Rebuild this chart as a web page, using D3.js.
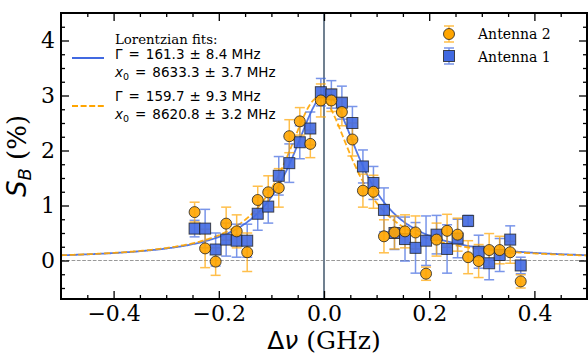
<!DOCTYPE html>
<html><head><meta charset="utf-8">
<script src="https://cdn.jsdelivr.net/npm/d3@7"></script>
<style>body{margin:0;background:#fff}svg{display:block}</style>
</head><body>
<svg id="chart" width="588" height="354"></svg>
<script>
// ---- data ----
const detuning = [-0.246,-0.226,-0.206,-0.186,-0.166,-0.146,-0.126,-0.106,-0.086,-0.066,-0.046,-0.026,-0.006,0.014,0.034,0.054,0.074,0.094,0.114,0.134,0.154,0.174,0.194,0.214,0.234,0.254,0.274,0.294,0.314,0.334,0.354,0.374];
const antenna2 = [0.88,0.22,-0.02,0.67,0.53,0.15,1.10,1.24,1.32,2.26,2.53,2.12,2.91,2.91,2.70,2.20,1.27,1.25,0.44,0.51,0.53,0.51,-0.24,0.38,0.54,0.47,0.06,-0.01,0.19,0.19,0.15,-0.38];
const antenna2Err = [0.18,0.35,0.25,0.30,0.30,0.35,0.25,0.30,0.35,0.30,0.25,0.25,0.30,0.20,0.25,0.30,0.30,0.30,0.30,0.30,0.30,0.30,0.12,0.30,0.30,0.30,0.30,0.30,0.30,0.25,0.20,0.12];
const antenna1 = [0.58,0.58,0.20,0.38,0.36,0.36,0.85,0.98,1.54,1.77,2.15,2.40,3.06,3.02,2.87,2.50,1.71,1.41,0.92,0.50,0.39,0.23,0.36,0.47,0.21,0.40,0.72,0.16,-0.05,0.10,0.38,-0.09];
const antenna1Err = [0.15,0.35,0.30,0.30,0.30,0.30,0.30,0.30,0.35,0.35,0.30,0.30,0.25,0.25,0.30,0.30,0.30,0.30,0.40,0.30,0.40,0.46,0.45,0.35,0.44,0.35,0.10,0.30,0.30,0.30,0.25,0.15];
// Lorentzian fit parameters (GHz relative to 8.63 GHz)
const fitBlue = {gamma:0.1613, center:0.0033, amp:3.0, offset:0.02};
const fitOrange = {gamma:0.1597, center:-0.0092, amp:2.95, offset:0.02};
const xMajor = [-0.4,-0.2,0.0,0.2,0.4];
const yMajor = [0,1,2,3,4];

const blue = "#4169E1", orange = "#FFA500";
const svg = d3.select("#chart");
const L=61,R=587,T=13,B=299;
const x = d3.scaleLinear().domain([-0.5,0.5]).range([L,R]);
const y = d3.scaleLinear().domain([-0.7,4.5]).range([B,T]);

svg.append("defs").append("clipPath").attr("id","clip")
  .append("rect").attr("x",L).attr("y",T).attr("width",R-L).attr("height",B-T);
const plot = svg.append("g").attr("clip-path","url(#clip)");

// zero line
plot.append("line").attr("x1",L).attr("x2",R).attr("y1",y(0)).attr("y2",y(0))
  .attr("stroke","#999").attr("stroke-width",1).attr("stroke-dasharray","3.7,1.6");
// vertical line
plot.append("line").attr("x1",x(0)).attr("x2",x(0)).attr("y1",T).attr("y2",B)
  .attr("stroke","#708090").attr("stroke-width",2);

// fits
const lor = p => v => p.offset + p.amp/(1+Math.pow((v-p.center)/(p.gamma/2),2));
const xs = d3.range(-0.5,0.5001,0.002);
const line = f => d3.line().x(d=>x(d)).y(d=>y(f(d)));
plot.append("path").attr("d",line(lor(fitBlue))(xs)).attr("fill","none")
  .attr("stroke",blue).attr("stroke-width",1.8).attr("opacity",0.9);
plot.append("path").attr("d",line(lor(fitOrange))(xs)).attr("fill","none")
  .attr("stroke",orange).attr("stroke-width",1.8).attr("stroke-dasharray","6,2.6").attr("opacity",0.9);

function errbars(vals, errs, col){
  const g = plot.append("g").attr("stroke",col).attr("stroke-width",1.5).attr("opacity",0.7);
  detuning.forEach((d,i)=>{
    const cx=x(d), y1=y(vals[i]-errs[i]), y2=y(vals[i]+errs[i]);
    g.append("line").attr("x1",cx).attr("x2",cx).attr("y1",y1).attr("y2",y2);
    g.append("line").attr("x1",cx-5).attr("x2",cx+5).attr("y1",y1).attr("y2",y1);
    g.append("line").attr("x1",cx-5).attr("x2",cx+5).attr("y1",y2).attr("y2",y2);
  });
}
errbars(antenna1, antenna1Err, blue);
errbars(antenna2, antenna2Err, orange);
// markers
plot.append("g").selectAll("rect").data(detuning).join("rect")
  .attr("x",d=>x(d)-5.5).attr("y",(d,i)=>y(antenna1[i])-5.5).attr("width",11).attr("height",11)
  .attr("fill",blue).attr("fill-opacity",0.9).attr("stroke","#222").attr("stroke-width",1).attr("stroke-opacity",0.8);
plot.append("g").selectAll("circle").data(detuning).join("circle")
  .attr("cx",d=>x(d)).attr("cy",(d,i)=>y(antenna2[i])).attr("r",5.5)
  .attr("fill",orange).attr("fill-opacity",0.9).attr("stroke","#222").attr("stroke-width",1).attr("stroke-opacity",0.8);

// axes
const fmt = d3.format(".1f");
const axFont = "DejaVu Serif";
function styleAxis(g){ g.select(".domain").remove(); g.selectAll("line").attr("stroke","#000").attr("stroke-width",1.3);
  g.selectAll("text").attr("font-family",axFont).attr("font-size",22).attr("fill","#000"); }
const xMinor = d3.range(-0.45,0.5,0.05).filter(v=>Math.abs(Math.round(v*5)-v*5)>1e-6);
const yMinor = d3.range(-0.5,4.5,0.25).filter(v=>Math.abs(Math.round(v)-v)>1e-6);
svg.append("g").attr("transform",`translate(0,${B})`).call(d3.axisBottom(x).tickValues(xMajor).tickSize(-8).tickPadding(6).tickFormat(fmt)).call(styleAxis);
svg.append("g").attr("transform",`translate(0,${B})`).call(d3.axisBottom(x).tickValues(xMinor).tickSize(-4).tickFormat("")).call(styleAxis);
svg.append("g").attr("transform",`translate(0,${T})`).call(d3.axisTop(x).tickValues(xMajor).tickSize(-8).tickFormat("")).call(styleAxis);
svg.append("g").attr("transform",`translate(0,${T})`).call(d3.axisTop(x).tickValues(xMinor).tickSize(-4).tickFormat("")).call(styleAxis);
svg.append("g").attr("transform",`translate(${L},0)`).call(d3.axisLeft(y).tickValues(yMajor).tickSize(-8).tickPadding(6).tickFormat(d3.format("d"))).call(styleAxis);
svg.append("g").attr("transform",`translate(${L},0)`).call(d3.axisLeft(y).tickValues(yMinor).tickSize(-4).tickFormat("")).call(styleAxis);
svg.append("g").attr("transform",`translate(${R},0)`).call(d3.axisRight(y).tickValues(yMajor).tickSize(-8).tickFormat("")).call(styleAxis);
svg.append("g").attr("transform",`translate(${R},0)`).call(d3.axisRight(y).tickValues(yMinor).tickSize(-4).tickFormat("")).call(styleAxis);
svg.append("rect").attr("x",L).attr("y",T).attr("width",R-L).attr("height",B-T).attr("fill","none").attr("stroke","#000").attr("stroke-width",2);

// axis labels
const xl = svg.append("text").attr("x",(L+R)/2).attr("y",349).attr("text-anchor","middle")
  .attr("font-family",axFont).attr("font-size",25);
xl.append("tspan").attr("font-family","DejaVu Sans").text("Δ");
xl.append("tspan").attr("font-family","DejaVu Sans").attr("font-style","italic").text("ν");
xl.append("tspan").text(" (GHz)");
const yl = svg.append("text").attr("transform",`translate(26,${(T+B)/2}) rotate(-90)`).attr("text-anchor","middle")
  .attr("font-family",axFont).attr("font-size",26);
yl.append("tspan").attr("font-family","DejaVu Sans").attr("font-style","italic").text("S");
yl.append("tspan").attr("font-family","DejaVu Sans").attr("font-style","italic").attr("font-size",18).attr("dy",5).text("B");
yl.append("tspan").attr("dy",-5).text(" (%)");

// fit legend
const lg = svg.append("g");
lg.append("text").attr("x",115).attr("y",44).attr("font-family","DejaVu Serif").attr("font-size",13.3).text("Lorentzian fits:");
function mathLine(yb, parts){
  const t = lg.append("text").attr("x",115).attr("y",yb).attr("font-family","DejaVu Sans").attr("font-size",13.5);
  parts.forEach(p=>{ const s=t.append("tspan").text(p.t); if(p.i) s.attr("font-style","italic");
    if(p.dy) s.attr("dy",p.dy); if(p.fs) s.attr("font-size",p.fs); if(p.dx) s.attr("dx",p.dx); });
}
function fitText(yb, first, val, err){
  const parts = first==="G" ? [{t:"Γ"}] : [{t:"x",i:1},{t:"0",fs:9.5,dy:3}];
  const back = first==="G" ? 0 : -3;
  parts.push({t:"=",dx:6,dy:back},{t:val,dx:6},{t:"±",dx:5},{t:err,dx:5},{t:" MHz"});
  mathLine(yb, parts);
}
fitText(59,"G","161.3","8.4");
fitText(77,"X","8633.3","3.7");
fitText(101,"G","159.7","9.3");
fitText(119,"X","8620.8","3.2");
lg.append("line").attr("x1",72).attr("x2",104).attr("y1",58).attr("y2",58).attr("stroke",blue).attr("stroke-width",2);
lg.append("line").attr("x1",72).attr("x2",104).attr("y1",106).attr("y2",106).attr("stroke",orange).attr("stroke-width",2).attr("stroke-dasharray","6,2.6");

// antenna legend
const al = svg.append("g");
function legErr(cx,cy,col){ const g=al.append("g").attr("stroke",col).attr("stroke-width",1.5).attr("opacity",0.7);
  g.append("line").attr("x1",cx).attr("x2",cx).attr("y1",cy-8).attr("y2",cy+8);
  g.append("line").attr("x1",cx-5).attr("x2",cx+5).attr("y1",cy-8).attr("y2",cy-8);
  g.append("line").attr("x1",cx-5).attr("x2",cx+5).attr("y1",cy+8).attr("y2",cy+8); }
legErr(449,34,orange); legErr(449,56,blue);
al.append("circle").attr("cx",449).attr("cy",34).attr("r",5.5).attr("fill",orange).attr("stroke","#222").attr("stroke-opacity",0.8);
al.append("rect").attr("x",443.5).attr("y",50.5).attr("width",11).attr("height",11).attr("fill",blue).attr("stroke","#222").attr("stroke-opacity",0.8);
al.append("text").attr("x",478).attr("y",39).attr("font-family","DejaVu Serif").attr("font-size",14).text("Antenna 2");
al.append("text").attr("x",478).attr("y",61.5).attr("font-family","DejaVu Serif").attr("font-size",14).text("Antenna 1");
</script>
</body></html>
